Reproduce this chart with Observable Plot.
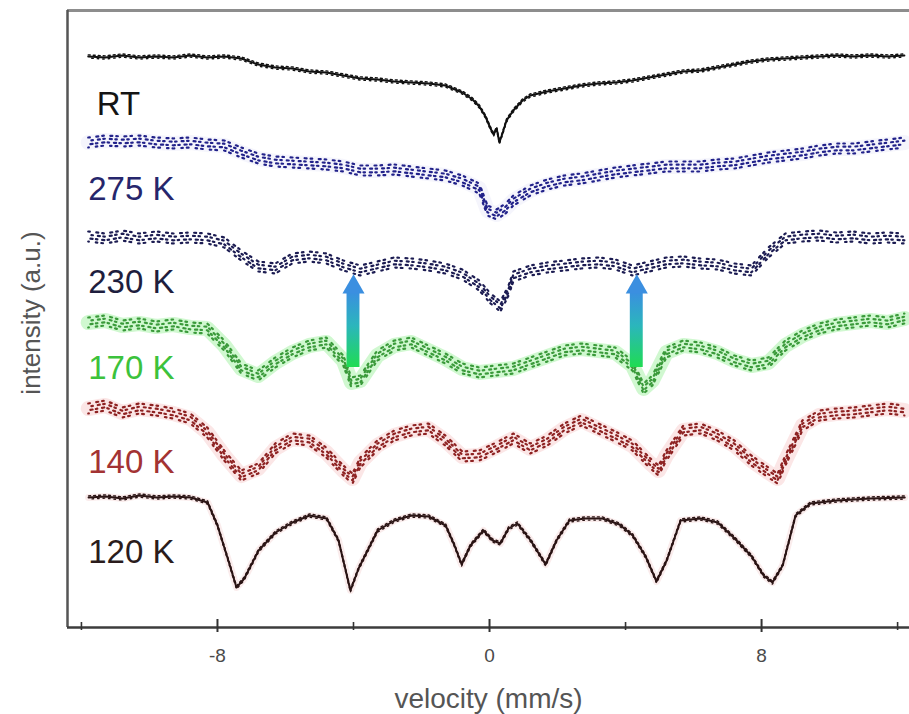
<!DOCTYPE html>
<html>
<head>
<meta charset="utf-8">
<script src="https://cdn.jsdelivr.net/npm/d3@7"></script>
<script src="https://cdn.jsdelivr.net/npm/@observablehq/plot@0.6"></script>
<style>
  html, body { margin: 0; padding: 0; background: #ffffff; }
  #chart { width: 909px; height: 714px; }
</style>
</head>
<body>
<div id="chart"></div>
<script>
// ---------- data (velocity in mm/s, intensity in arbitrary units) ----------
const rtVel  = [-11.8,-11.3,-10.8,-10.3,-9.8,-9.3,-8.8,-8.3,-7.8,-7.3,-6.8,-6.3,-5.8,-5.3,-4.8,-4.3,-3.8,-3.3,-2.8,-2.3,-1.8,-1.3,-0.8,
                -0.5,-0.3,-0.12,0.03,0.12,0.21,0.29,0.38,0.5,
                0.7,0.97,1.2,
                1.7,2.2,2.7,3.2,3.7,4.2,4.7,5.2,5.7,6.2,6.7,7.2,7.7,8.2,8.7,9.2,9.7,10.2,10.7,11.2,11.7,12.2];
const rtInt  = [571,570,572,570,571,570,572,570,571,569,563,560,559,556,555,552,549,548,546,545,544,542,535,
                528,521,511,499,493,499,485,494,507,
                517,527,532,
                536,539,542,544,545,547,550,553,556,557,560,563,566,568,569,570,571,572,571,572,571,572];

const k275Vel = [-11.8,-11.3,-10.8,-10.3,-9.8,-9.3,-8.8,-8.3,-7.8,-7.3,-6.8,-6.3,-5.8,-5.3,-4.8,-4.3,-3.8,-3.3,-2.8,-2.3,-1.8,-1.3,-0.8,-0.3,
                 -0.06,0.21,0.47,
                 0.7,1.2,1.7,2.2,2.7,3.2,3.7,4.2,4.7,5.2,5.7,6.2,6.7,7.2,7.7,8.2,8.7,9.2,9.7,10.2,10.7,11.2,11.7,12.2];
const k275Int = [485,487,486,487,485,484,485,483,482,475,469,466,465,464,463,461,457,457,458,456,454,452,447,439,
                 417,413,419,
                 427,437,443,447,449,452,455,457,459,461,461,461,463,464,467,470,472,474,477,479,479,481,483,485];

const k230Vel = [-11.8,-11.3,-10.8,-10.3,-9.8,-9.3,-8.8,-8.3,-7.8,-7.3,-6.8,-6.3,-5.8,-5.3,-4.8,-4.3,-3.8,-3.3,-2.8,-2.3,-1.8,-1.3,-0.8,-0.3,
                 0.03,0.32,0.56,
                 0.7,1.2,1.7,2.2,2.7,3.2,3.7,4.2,4.7,5.2,5.7,6.2,6.7,7.2,7.7,8.2,8.7,9.2,9.7,10.2,10.7,11.2,11.7,12.2];
const k230Int = [391,389,392,389,391,389,390,389,385,372,361,359,369,371,369,362,357,361,365,364,362,359,353,342,
                 329,321,337,
                 351,357,360,362,364,365,363,357,361,365,366,364,363,359,357,375,389,391,392,390,391,389,390,389];

const k170Vel = [-11.8,-11.3,-10.8,-10.3,-9.8,-9.3,-8.8,-8.3,-7.8,-7.3,-6.8,-6.3,-5.8,-5.3,-4.8,-4.3,
                 -4.06,
                 -3.8,-3.3,-2.8,-2.3,-1.8,-1.3,-0.8,-0.3,0.2,0.7,1.2,1.7,2.2,2.7,3.2,3.7,4.2,
                 4.53,4.79,
                 5.2,5.7,6.2,6.7,7.2,7.7,8.2,8.7,9.2,9.7,10.2,10.7,11.2,11.7,12.2];
const k170Int = [305,307,302,304,301,303,300,299,282,259,252,265,275,282,285,267,
                 245,
                 247,272,282,285,277,269,259,255,257,259,265,271,277,279,277,275,262,
                 239,247,
                 275,282,280,275,267,262,265,282,292,299,303,305,307,305,309];

const k140Vel = [-11.8,-11.3,-10.8,-10.3,-9.8,-9.3,-8.8,-8.3,-7.8,-7.3,-6.8,-6.3,-5.8,-5.3,-4.8,-4.3,
                 -4.03,
                 -3.8,-3.3,-2.8,-2.3,-1.8,-1.3,-0.8,-0.3,0.2,0.7,1.2,1.7,2.2,2.7,3.2,3.7,4.2,4.7,
                 4.97,
                 5.2,5.7,6.2,6.7,7.2,7.7,8.2,
                 8.47,
                 8.7,9.2,9.7,10.2,10.7,11.2,11.7,12.2];
const k140Int = [219,222,215,219,217,214,209,195,172,152,159,179,189,187,175,157,
                 149,
                 165,182,192,197,199,187,171,172,180,189,179,187,199,207,199,191,182,165,
                 157,
                 172,197,199,192,182,167,155,
                 149,
                 167,202,212,214,215,217,219,217];

const k120Vel = [-11.79,-11.29,-10.79,-10.29,-9.79,-9.29,-8.79,-8.29,-8.0,-7.68,-7.44,-7.21,-6.79,-6.29,-5.79,-5.29,-4.79,-4.44,-4.09,-3.85,
                 -3.29,-2.79,-2.29,-1.79,-1.29,-1.03,-0.82,-0.56,-0.18,0.09,0.32,0.56,0.82,1.21,1.65,1.97,2.35,2.82,3.32,3.82,
                 4.21,4.59,4.91,5.21,5.62,6.21,6.71,7.21,7.71,8.06,8.32,8.62,9.0,9.44,10.21,11.21,12.21];
const k120Int = [130,131,129,132,130,131,130,125,102,67,40,49,77,95,105,112,109,87,37,59,
                 97,107,112,111,102,82,63,82,97,87,84,99,104,87,63,87,107,109,109,103,
                 92,71,46,67,107,109,105,89,71,52,45,62,112,124,127,129,130];

const seriesNames  = ["RT", "275 K", "230 K", "170 K", "140 K", "120 K"];
const labelVel     = [-11.55, -11.8, -11.8, -11.8, -11.8, -11.8];
const labelInt     = [523, 438, 345, 259, 165, 75];
const labelColors  = ["#141414", "#26266c", "#1e1e3e", "#3cc23c", "#a33333", "#2a1c1c"];

const majorTicks = [-8, 0, 8];
const minorTicks = [-12, -4, 4, 12];

const arrowVel  = [-4.0, 4.33];
const arrowBase = [260, 260];
const arrowTop  = [335, 335];
const arrowHead = [340.4, 340.4];

// ---------- build rows ----------
function rows(vel, val) {
  if (vel.length !== val.length) console.warn("length mismatch", vel.length, val.length);
  return vel.map((v, i) => ({v, I: val[i]}));
}
const rt = rows(rtVel, rtInt);
const s275 = rows(k275Vel, k275Int);
const s230 = rows(k230Vel, k230Int);
const s170 = rows(k170Vel, k170Int);
const s140 = rows(k140Vel, k140Int);
const s120 = rows(k120Vel, k120Int);
const labels = seriesNames.map((name, i) => ({name, v: labelVel[i], I: labelInt[i], color: labelColors[i]}));
const arrows = arrowVel.map((v, i) => ({v, base: arrowBase[i], top: arrowTop[i], head: arrowHead[i]}));

// dotted "scatter" look: several dashed strands of the same series
function scatter(data, color, glow, glowOpacity) {
  const marks = [];
  if (glow) marks.push(Plot.line(data, {x: "v", y: "I", stroke: glow, strokeWidth: 15, strokeOpacity: glowOpacity,
                                        strokeLinejoin: "round", strokeLinecap: "round"}));
  [[-5, "1.6 6.5 2 4", 0], [-1.8, "2 3.5 1.5 5", 2.3], [1.8, "1.5 4.8 2.2 3.3", 4.1], [5, "1.8 7 1.5 4", 1.2]]
    .forEach(([dy, dash, off]) => {
      marks.push(Plot.line(data, {x: "v", y: "I", stroke: color, strokeWidth: 2.2, strokeDasharray: dash,
                                  strokeDashoffset: off, strokeLinecap: "round", dy}));
    });
  return marks;
}
// solid, slightly noisy-looking trace
function trace(data, color) {
  return [
    Plot.line(data, {x: "v", y: "I", stroke: color, strokeWidth: 2, strokeLinejoin: "round"}),
    Plot.line(data, {x: "v", y: "I", stroke: color, strokeWidth: 1.4, strokeDasharray: "2 3", dy: -1.6}),
    Plot.line(data, {x: "v", y: "I", stroke: color, strokeWidth: 1.4, strokeDasharray: "1.5 4", strokeDashoffset: 2, dy: 1.6})
  ];
}

const font = "Liberation Sans, Arial, Helvetica, sans-serif";

const chart = Plot.plot({
  width: 909,
  height: 714,
  marginLeft: 67,
  marginRight: 0,
  marginTop: 10,
  marginBottom: 87,
  style: {background: "#ffffff", fontFamily: font},
  x: {domain: [-12.41, 12.35]},
  y: {domain: [0, 617], axis: null},
  color: {type: "identity"},
  marks: [
    // frame
    Plot.ruleY([617], {stroke: "#8d8d8d", strokeWidth: 3}),
    Plot.ruleX([-12.41], {stroke: "#555555", strokeWidth: 2.5}),
    // series
    ...trace(rt, "#111111"),
    ...scatter(s275, "#22228a", "#d8d8f4", 0.25),
    ...scatter(s230, "#1c1c52", null, 0),
    ...scatter(s170, "#3a9a3a", "#62e862", 0.3),
    ...scatter(s140, "#8e2222", "#f2a4a4", 0.28),
    Plot.line(s120, {x: "v", y: "I", stroke: "#e08080", strokeWidth: 7, strokeOpacity: 0.15, strokeLinejoin: "round"}),
    ...trace(s120, "#2a1414"),
    // arrows
    Plot.rect(arrows, {x1: d => d.v - 0.19, x2: d => d.v + 0.19, y1: "base", y2: "top", fill: "url(#arrowGrad)"}),
    Plot.dot(arrows, {x: "v", y: "head", symbol: "triangle", r: 8.2, fill: "#3b8fe0", stroke: "none"}),
    // series labels
    Plot.text(labels, {x: "v", y: "I", text: "name", fill: "color", fontSize: 33, fontFamily: font,
                       textAnchor: "start", lineAnchor: "middle", ariaLabel: "series labels"}),
    // bottom axis line
    Plot.ruleY([0], {stroke: "#3c3c3c", strokeWidth: 2.5}),
    // ticks
    Plot.axisX({ticks: majorTicks, tickSize: 13, dy: -8, tickFormat: () => "", label: null, stroke: "#333", strokeWidth: 2}),
    Plot.axisX({ticks: minorTicks, tickSize: 8, dy: -5, tickFormat: () => "", label: null, stroke: "#333", strokeWidth: 1.6}),
    Plot.axisX({ticks: majorTicks, tickSize: 0, tickPadding: 21, tickFormat: d => String(d), label: null,
                fontSize: 19, fontFamily: font, fill: "#4a4a4a"}),
    // axis labels
    Plot.text(["velocity (mm/s)"], {frameAnchor: "bottom", dy: 72, text: d => d, fontSize: 28,
                                    fontFamily: font, fill: "#555", textAnchor: "middle", lineAnchor: "middle"}),
    Plot.text(["intensity (a.u.)"], {frameAnchor: "left", dx: -36, dy: -6, rotate: -90, text: d => d,
                                     fontSize: 26, fontFamily: font, fill: "#555", textAnchor: "middle", lineAnchor: "middle"})
  ]
});

const svg = d3.select(chart);
svg.insert("defs", ":first-child").html(
  '<linearGradient id="arrowGrad" x1="0" y1="0" x2="0" y2="1">' +
  '<stop offset="0" stop-color="#3a8fe0"/>' +
  '<stop offset="0.45" stop-color="#2bb6bc"/>' +
  '<stop offset="1" stop-color="#1fdc52"/>' +
  '</linearGradient>');
svg.select('g[aria-label="series labels"]').attr("letter-spacing", "1px");

document.getElementById("chart").appendChild(chart);
</script>
</body>
</html>
